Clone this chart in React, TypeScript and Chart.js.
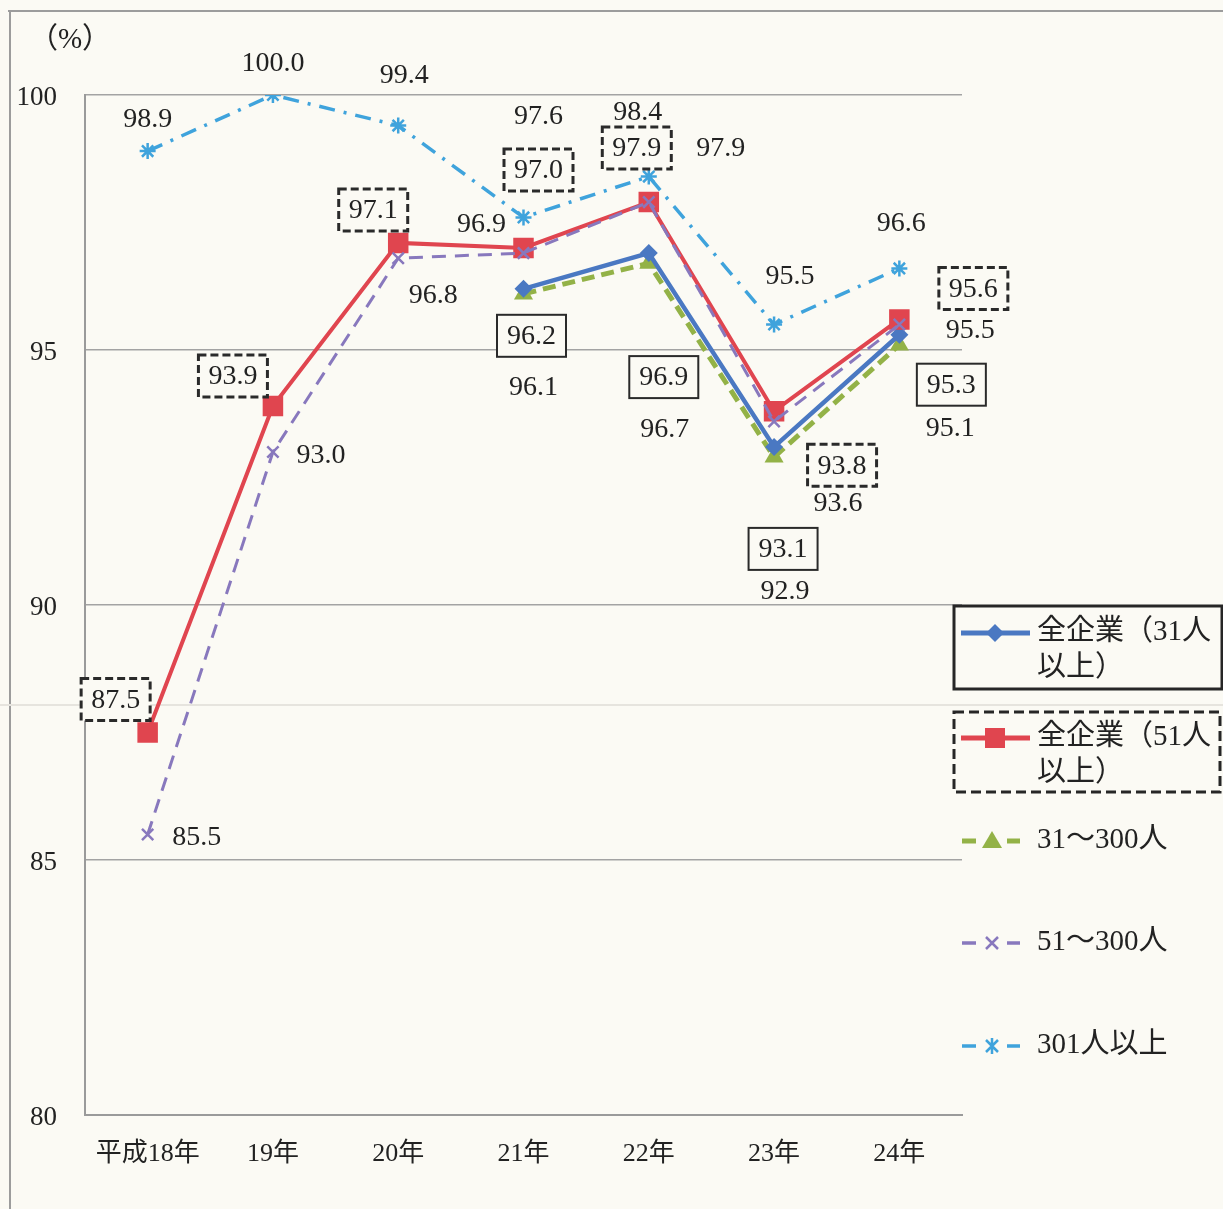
import React, { useEffect, useRef } from "react";
import { Chart, registerables } from "chart.js";

Chart.register(...registerables);

// ---------- data ----------
const categories = ["平成18年", "19年", "20年", "21年", "22年", "23年", "24年"];
const all31 = [null, null, null, 96.2, 96.9, 93.1, 95.3];
const all51 = [87.5, 93.9, 97.1, 97.0, 97.9, 93.8, 95.6];
const size31to300 = [null, null, null, 96.1, 96.7, 92.9, 95.1];
const size51to300 = [85.5, 93.0, 96.8, 96.9, 97.9, 93.6, 95.5];
const size301plus = [98.9, 100.0, 99.4, 97.6, 98.4, 95.5, 96.6];
const yTicks = [80, 85, 90, 95, 100];
const seriesNames = ["全企業（31人以上）", "全企業（51人以上）", "31〜300人", "51〜300人", "301人以上"];
const legendLines = [["全企業（31人", "以上）"], ["全企業（51人", "以上）"], ["31〜300人"], ["51〜300人"], ["301人以上"]];
const unitLabel = "（%）";

// ---------- styles / label placement (pixel offsets from each point) ----------
const COLORS = ["#4a78c2", "#e0454f", "#93b247", "#8878bd", "#3fa3dc"];
const labelOffsets: (number[] | null)[][] = [
  [null, null, null, [8, 47], [15, 124], [9, 102], [52, 50]],
  [[-32, -33], [-40, -30], [-25, -33], [15, -78], [-12, -54], [68, 54], [74, -31]],
  [null, null, null, [10, 93], [16, 165], [11, 134], [51, 83]],
  [[49, 2], [48, 3], [35, 36], [-42, -29], [72, -54], [64, 81], [71, 5]],
  [[0, -32], [0, -32], [6, -51], [15, -102], [-11, -65], [16, -49], [2, -46]],
];
const labelBoxes = ["solid", "dashed", "none", "none", "none"];
const BG = "#fbfaf4";
const TEXT = "#222222";
const FONT = "'Liberation Serif', 'Noto Sans CJK JP', serif";

const bgPlugin = {
  id: "bg",
  beforeDraw(chart: any) {
    const { ctx, width, height } = chart;
    ctx.save();
    ctx.fillStyle = BG;
    ctx.fillRect(0, 0, width, height);
    // scanned page frame
    ctx.strokeStyle = "#9c9c9c";
    ctx.lineWidth = 2;
    ctx.beginPath();
    ctx.moveTo(8, 11);
    ctx.lineTo(width, 11);
    ctx.moveTo(10, 11);
    ctx.lineTo(10, height);
    ctx.stroke();
    ctx.strokeStyle = "#e6e4de";
    ctx.beginPath();
    ctx.moveTo(0, 705);
    ctx.lineTo(width, 705);
    ctx.stroke();
    ctx.fillStyle = TEXT;
    ctx.font = `29px ${FONT}`;
    ctx.textAlign = "center";
    ctx.textBaseline = "middle";
    ctx.fillText(unitLabel, 70, 40);
    ctx.restore();
  },
};

const labelPlugin = {
  id: "valueLabels",
  afterDatasetsDraw(chart: any) {
    const { ctx } = chart;
    ctx.save();
    ctx.font = `28px ${FONT}`;
    ctx.textAlign = "center";
    ctx.textBaseline = "middle";
    chart.data.datasets.forEach((ds: any, di: number) => {
      const meta = chart.getDatasetMeta(di);
      ds.data.forEach((v: number | null, i: number) => {
        if (v === null) return;
        const off = labelOffsets[di][i];
        if (!off) return;
        const pt = meta.data[i];
        const x = pt.x + off[0];
        const y = pt.y + off[1];
        const txt = v.toFixed(1);
        const box = labelBoxes[di];
        if (box !== "none") {
          const w = ctx.measureText(txt).width + 20;
          const h = 42;
          ctx.fillStyle = BG;
          ctx.fillRect(x - w / 2, y - h / 2, w, h);
          ctx.strokeStyle = "#2a2a2a";
          if (box === "dashed") {
            ctx.lineWidth = 3;
            ctx.setLineDash([8, 4]);
          } else {
            ctx.lineWidth = 2;
            ctx.setLineDash([]);
          }
          ctx.strokeRect(x - w / 2, y - h / 2, w, h);
          ctx.setLineDash([]);
        }
        ctx.fillStyle = TEXT;
        ctx.fillText(txt, x, y + 1);
      });
    });
    ctx.restore();
  },
};

function drawMarker(ctx: CanvasRenderingContext2D, kind: number, x: number, y: number) {
  const c = COLORS[kind];
  ctx.save();
  ctx.fillStyle = c;
  ctx.strokeStyle = c;
  ctx.setLineDash([]);
  if (kind === 0) {
    const r = 9;
    ctx.beginPath();
    ctx.moveTo(x, y - r);
    ctx.lineTo(x + r, y);
    ctx.lineTo(x, y + r);
    ctx.lineTo(x - r, y);
    ctx.closePath();
    ctx.fill();
  } else if (kind === 1) {
    ctx.fillRect(x - 10, y - 10, 20, 20);
  } else if (kind === 2) {
    ctx.beginPath();
    ctx.moveTo(x, y - 10);
    ctx.lineTo(x + 10, y + 7);
    ctx.lineTo(x - 10, y + 7);
    ctx.closePath();
    ctx.fill();
  } else if (kind === 3) {
    ctx.lineWidth = 2.5;
    ctx.beginPath();
    ctx.moveTo(x - 6, y - 6);
    ctx.lineTo(x + 6, y + 6);
    ctx.moveTo(x + 6, y - 6);
    ctx.lineTo(x - 6, y + 6);
    ctx.stroke();
  } else {
    ctx.lineWidth = 2.5;
    ctx.beginPath();
    ctx.moveTo(x - 6, y - 6);
    ctx.lineTo(x + 6, y + 6);
    ctx.moveTo(x + 6, y - 6);
    ctx.lineTo(x - 6, y + 6);
    ctx.moveTo(x, y - 8);
    ctx.lineTo(x, y + 8);
    ctx.stroke();
  }
  ctx.restore();
}

const legendPlugin = {
  id: "customLegend",
  afterDraw(chart: any) {
    const { ctx } = chart;
    ctx.save();
    // boxes
    ctx.strokeStyle = "#262626";
    ctx.lineWidth = 3;
    ctx.strokeRect(954, 606, 268, 83);
    ctx.setLineDash([10, 5]);
    ctx.strokeRect(954, 712, 266, 80);
    ctx.setLineDash([]);

    const rows = [633, 738, 841, 943, 1046];
    rows.forEach((y, k) => {
      ctx.strokeStyle = COLORS[k];
      if (k < 2) {
        ctx.lineWidth = 5;
        ctx.beginPath();
        ctx.moveTo(961, y);
        ctx.lineTo(1030, y);
        ctx.stroke();
        drawMarker(ctx, k, 995, y);
      } else {
        ctx.lineWidth = k === 2 ? 5 : 3.5;
        ctx.beginPath();
        ctx.moveTo(962, y);
        ctx.lineTo(976, y);
        ctx.moveTo(1007, y);
        ctx.lineTo(1020, y);
        ctx.stroke();
        drawMarker(ctx, k, 992, y);
      }
      ctx.fillStyle = TEXT;
      ctx.font = `29px ${FONT}`;
      ctx.textAlign = "left";
      ctx.textBaseline = "middle";
      legendLines[k].forEach((ln, j) => {
        ctx.fillText(ln, 1037, y - 1 + j * 36);
      });
    });
    ctx.restore();
  },
};

export default function App() {
  const ref = useRef<HTMLCanvasElement>(null);

  useEffect(() => {
    if (!ref.current) return;
    const chart = new Chart(ref.current, {
      type: "line",
      data: {
        labels: categories,
        datasets: [
          {
            label: seriesNames[0],
            data: all31,
            borderColor: COLORS[0],
            backgroundColor: COLORS[0],
            borderWidth: 4.5,
            pointStyle: "rectRot",
            pointRadius: 9,
            pointBorderWidth: 0,
            order: 3,
          },
          {
            label: seriesNames[1],
            data: all51,
            borderColor: COLORS[1],
            backgroundColor: COLORS[1],
            borderWidth: 4,
            pointStyle: "rect",
            pointRadius: 14.5,
            pointBorderWidth: 0,
            order: 2,
          },
          {
            label: seriesNames[2],
            data: size31to300,
            borderColor: COLORS[2],
            backgroundColor: COLORS[2],
            borderWidth: 5,
            borderDash: [13, 7],
            pointStyle: "triangle",
            pointRadius: 11,
            pointBorderWidth: 0,
            order: 4,
          },
          {
            label: seriesNames[3],
            data: size51to300,
            borderColor: COLORS[3],
            backgroundColor: COLORS[3],
            borderWidth: 3,
            borderDash: [14, 9],
            pointStyle: "crossRot",
            pointRadius: 8,
            pointBorderWidth: 2.5,
            order: 1,
          },
          {
            label: seriesNames[4],
            data: size301plus,
            borderColor: COLORS[4],
            backgroundColor: COLORS[4],
            borderWidth: 3.5,
            borderDash: [16, 9, 3, 9],
            pointStyle: "star",
            pointRadius: 8,
            pointBorderWidth: 2.5,
            order: 0,
          },
        ],
      },
      options: {
        responsive: false,
        animation: false,
        events: [],
        layout: { padding: { top: 95, right: 261, left: 0, bottom: 0 } },
        elements: { line: { tension: 0 } },
        plugins: {
          legend: { display: false },
          tooltip: { enabled: false },
          title: { display: false },
        },
        scales: {
          x: {
            offset: true,
            grid: { display: false, drawTicks: false },
            border: { display: true, color: "#9a9a9a", width: 2 },
            ticks: {
              color: TEXT,
              font: { family: FONT, size: 26 },
              padding: 24,
              maxRotation: 0,
              autoSkip: false,
            },
            afterFit(scale: any) {
              scale.height = 94;
            },
          },
          y: {
            min: yTicks[0],
            max: yTicks[yTicks.length - 1],
            afterBuildTicks(scale: any) {
              scale.ticks = yTicks.map((v) => ({ value: v }));
            },
            grid: { color: "#a3a3a3", lineWidth: 1.5, drawTicks: false },
            border: { display: true, color: "#9a9a9a", width: 2 },
            ticks: {
              color: TEXT,
              font: { family: FONT, size: 27 },
              padding: 28,
              labelOffset: 3,
            },
            afterFit(scale: any) {
              scale.width = 85;
            },
          },
        },
      },
      plugins: [bgPlugin, labelPlugin, legendPlugin],
    });
    return () => chart.destroy();
  }, []);

  return (
    <div style={{ position: "absolute", left: 0, top: 0, width: 1223, height: 1209, background: BG }}>
      <canvas ref={ref} width={1223} height={1209} style={{ display: "block" }} />
    </div>
  );
}
